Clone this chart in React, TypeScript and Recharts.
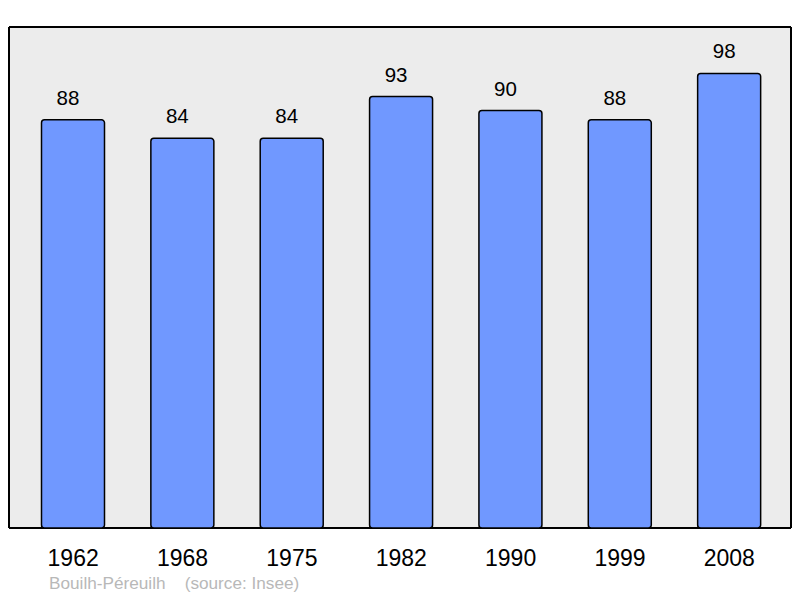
import { BarChart, Bar, XAxis, YAxis, LabelList, CartesianGrid } from "recharts";

const years = ["1962", "1968", "1975", "1982", "1990", "1999", "2008"];
const population = [88, 84, 84, 93, 90, 88, 98];
const yMax = 108;
const footnote = "Bouilh-Péreuilh    (source: Insee)";

const data = years.map((year, i) => ({ year, value: population[i] }));

const font = '"Liberation Sans", Arial, sans-serif';

// frame lines sit on the edges of the plot area
const frameX = ({ offset }: any) => [offset.left, offset.left + offset.width];
const frameY = ({ offset }: any) => [offset.top, offset.top + offset.height];

export default function App() {
  return (
    <div style={{ position: "fixed", top: 0, left: 0, width: 800, height: 598, background: "#fff" }}>
      <BarChart
        width={800}
        height={598}
        data={data}
        margin={{ top: 27, right: 9, bottom: 40, left: 9 }}
        barSize={63}
      >
        <CartesianGrid
          fill="#ececec"
          fillOpacity={1}
          stroke="#000"
          strokeWidth={2}
          verticalCoordinatesGenerator={frameX}
          horizontalCoordinatesGenerator={frameY}
        />
        <XAxis
          dataKey="year"
          height={30}
          padding={{ left: 9.5, right: 7 }}
          axisLine={false}
          tickLine={false}
          tickSize={10}
          tickMargin={12}
          interval={0}
          tick={{ fill: "#000", fontSize: 23, fontFamily: font }}
        />
        <YAxis hide domain={[0, yMax]} />
        <Bar
          dataKey="value"
          fill="#7098ff"
          stroke="#000"
          strokeWidth={1.5}
          radius={3}
          isAnimationActive={false}
        >
          <LabelList
            dataKey="value"
            position="top"
            offset={15}
            dx={-5}
            fill="#000"
            fontSize={20.5}
            fontFamily={font}
          />
        </Bar>
      </BarChart>
      <svg width={800} height={598} style={{ position: "absolute", top: 0, left: 0, pointerEvents: "none" }}>
        <text x={49} y={589} fill="#b8b8b8" fontSize={17.2} fontFamily={font} style={{ whiteSpace: "pre" }}>
          {footnote}
        </text>
      </svg>
    </div>
  );
}
